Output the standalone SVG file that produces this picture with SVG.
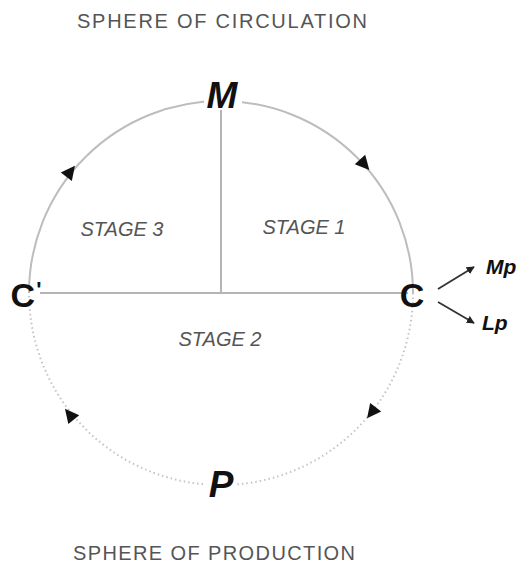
<svg xmlns="http://www.w3.org/2000/svg" width="522" height="567" viewBox="0 0 522 567">
  <defs>
    <style>
      .sphere { font-family: "Liberation Sans", Arial, sans-serif; font-size: 20px; fill: #555; text-anchor: middle; }
      .stage { font-family: "Liberation Sans", Arial, sans-serif; font-size: 20px; font-style: italic; fill: #555; text-anchor: middle; }
      .big { font-family: "Liberation Sans", Arial, sans-serif; font-weight: bold; fill: #111; text-anchor: middle; }
      .small { font-family: "Liberation Sans", Arial, sans-serif; font-weight: bold; font-style: italic; font-size: 21px; fill: #111; }
      .solid { fill: none; stroke: #bdbdbd; stroke-width: 2; }
      .dotted { fill: none; stroke: #c4c4c4; stroke-width: 2; stroke-dasharray: 1.5 3; }
      .line { stroke: #b5b5b5; stroke-width: 2; }
      .head { fill: #111; }
      .ptr { stroke: #333; stroke-width: 1.8; fill: none; marker-end: url(#tip); }
    </style>
    <marker id="tip" viewBox="0 0 10 10" refX="9" refY="5" markerWidth="8" markerHeight="8" orient="auto" markerUnits="userSpaceOnUse">
      <path d="M0,0 L10,5 L0,10 z" fill="#222"/>
    </marker>
  </defs>

  <g id="labels">
    <text class="sphere" x="222" y="28" textLength="290" lengthAdjust="spacing">SPHERE OF CIRCULATION</text>
    <text class="sphere" x="214" y="560" textLength="282" lengthAdjust="spacing">SPHERE OF PRODUCTION</text>
    <text class="stage" x="122" y="236">STAGE 3</text>
    <text class="stage" x="304" y="234">STAGE 1</text>
    <text class="stage" x="220" y="346">STAGE 2</text>
  </g>

  <g id="connectors">
    <path class="solid" d="M29 293 A192 192 0 0 1 413 293"/>
    <path class="dotted" d="M413 293 A192 192 0 0 1 29 293"/>
    <line class="line" x1="221" y1="105" x2="221" y2="293"/>
    <line class="line" x1="40" y1="293" x2="408" y2="293"/>
    <polygon class="head" points="8,0 -6,-7 -6,7" transform="translate(364,164) rotate(48)"/>
    <polygon class="head" points="8,0 -6,-7 -6,7" transform="translate(70,172) rotate(-52)"/>
    <polygon class="head" points="8,0 -6,-7 -6,7" transform="translate(372,412) rotate(128)"/>
    <polygon class="head" points="8,0 -6,-7 -6,7" transform="translate(70,415) rotate(231)"/>
    <line class="ptr" x1="438" y1="289" x2="474" y2="267"/>
    <line class="ptr" x1="438" y1="302" x2="474" y2="323"/>
  </g>

  <g id="node-M">
    <rect x="204" y="80" width="38" height="30" fill="#fff"/>
    <text class="big" x="222" y="108" font-size="37" font-style="italic">M</text>
  </g>
  <g id="node-C-prime">
    <text class="big" x="26" y="307" font-size="34">C<tspan font-size="22" dx="1" dy="-10">'</tspan></text>
  </g>
  <g id="node-C">
    <text class="big" x="412" y="307" font-size="34">C</text>
  </g>
  <g id="node-P">
    <rect x="206" y="472" width="30" height="24" fill="#fff"/>
    <text class="big" x="221" y="497" font-size="37" font-style="italic">P</text>
  </g>
  <g id="node-Mp">
    <text class="small" x="486" y="274">Mp</text>
  </g>
  <g id="node-Lp">
    <text class="small" x="482" y="330">Lp</text>
  </g>
</svg>
